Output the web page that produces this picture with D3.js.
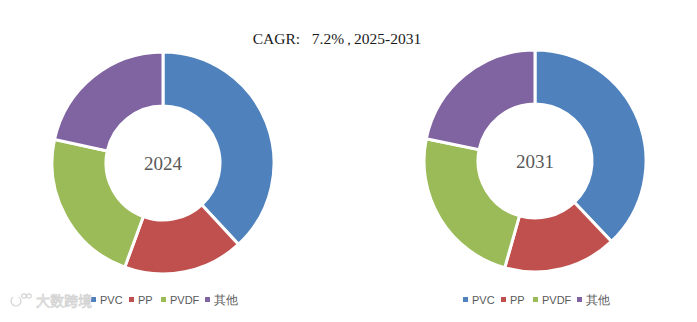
<!DOCTYPE html>
<html>
<head>
<meta charset="utf-8">
<script src="https://cdn.jsdelivr.net/npm/d3@7/dist/d3.min.js"></script>
<style>
  html, body { margin: 0; padding: 0; background: #fff; }
  svg { display: block; }
</style>
</head>
<body>
<svg id="chart" width="697" height="322"></svg>
<script>
// Market share by material (%), two snapshot years
const categories = ["PVC", "PP", "PVDF", "其他"];
const years = ["2024", "2031"];
const share2024 = [38.1, 17.5, 22.8, 21.6];
const share2031 = [37.9, 16.5, 23.8, 21.8];
const colors = ["#4F81BD", "#C0504D", "#9BBB59", "#8064A2"];
const titleParts = ["CAGR:   7.2%", "，", "2025-2031"];
const watermarkText = "大数跨境";

const svg = d3.select("#chart");

const color = d3.scaleOrdinal().domain(categories).range(colors);

// title: the full-width comma is set smaller so it stays narrow
const title = svg.append("text")
  .attr("x", 337).attr("y", 44)
  .attr("text-anchor", "middle")
  .attr("font-family", "'Liberation Serif', 'DejaVu Serif', serif")
  .attr("font-size", 15.5)
  .attr("fill", "#1a1a1a")
  .attr("xml:space", "preserve");
title.append("tspan").text(titleParts[0]);
title.append("tspan").attr("font-size", 10).attr("font-weight", "bold").text(titleParts[1]);
title.append("tspan").text(titleParts[2]);

const pie = d3.pie().sort(null).value(d => d.value);
const arc = d3.arc().innerRadius(57).outerRadius(111);

const donuts = [
  { year: years[0], values: share2024, cx: 163, cy: 163, legendX: 91 },
  { year: years[1], values: share2031, cx: 535, cy: 161, legendX: 463 }
];

donuts.forEach(dn => {
  const data = categories.map((c, i) => ({ cat: c, value: dn.values[i] }));
  const g = svg.append("g").attr("transform", `translate(${dn.cx},${dn.cy})`);
  g.selectAll("path")
    .data(pie(data))
    .join("path")
    .attr("d", arc)
    .attr("fill", d => color(d.data.cat))
    .attr("stroke", "#fff")
    .attr("stroke-width", 3)
    .attr("stroke-linejoin", "miter");

  g.append("text")
    .attr("x", 0).attr("y", 7)
    .attr("text-anchor", "middle")
    .attr("font-family", "'Liberation Serif', 'DejaVu Serif', serif")
    .attr("font-size", 19)
    .attr("fill", "#595959")
    .text(dn.year);

  // legend row
  const lg = svg.append("g").attr("transform", `translate(${dn.legendX},300)`);
  const offsets = [0, 38, 70, 114];
  categories.forEach((c, i) => {
    const item = lg.append("g").attr("transform", `translate(${offsets[i]},0)`);
    item.append("rect")
      .attr("x", 0).attr("y", -3)
      .attr("width", 5).attr("height", 5)
      .attr("fill", color(c));
    item.append("text")
      .attr("x", 9).attr("y", 4)
      .attr("font-family", "'Liberation Sans', Arial, sans-serif")
      .attr("font-size", i === 3 ? 12 : 11)
      .attr("fill", "#595959")
      .text(c);
  });
});

// faint site mark, bottom-left
const mark = svg.append("g").attr("fill", "none").attr("stroke", "#d4d4d4").attr("stroke-width", 1.2);
mark.append("path").attr("d", d3.arc()({ innerRadius: 5, outerRadius: 5, startAngle: 0.6, endAngle: 5.6 }))
  .attr("transform", "translate(16,301)");
mark.append("circle").attr("cx", 24).attr("cy", 296).attr("r", 2.2);
mark.append("circle").attr("cx", 29).attr("cy", 296).attr("r", 2.2);
svg.append("text")
  .attr("x", 36).attr("y", 306)
  .attr("font-family", "'Noto Sans CJK SC', sans-serif")
  .attr("font-size", 14)
  .attr("fill", "none")
  .attr("stroke", "#d4d4d4")
  .attr("stroke-width", 0.8)
  .text(watermarkText);
</script>
</body>
</html>
